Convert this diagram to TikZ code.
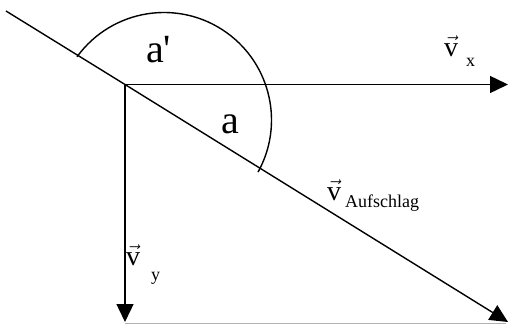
\documentclass[tikz,border=0pt]{standalone}
\usepackage{fontspec}
\setmainfont{Liberation Serif}
\usetikzlibrary{arrows.meta}
\newcommand{\vecv}[3]{$\vec{\textrm{v}}$\hspace{#2}\raisebox{-#3}{\fontsize{18}{18}\selectfont #1}}
\begin{document}
\begin{tikzpicture}[x=1pt,y=-1pt,
  vline/.style={line width=1.4pt},
  vtip/.style={-{Triangle[length=18pt,width=17pt]}},
  anglab/.style={inner sep=0pt,anchor=base west,font=\fontsize{40}{40}\selectfont},
  veclab/.style={inner sep=0pt,anchor=base west,font=\fontsize{28}{28}\selectfont}]
\useasboundingbox (0,0) rectangle (509,324);
\coordinate (O) at (125,84.5);
\coordinate (D0) at (6,11);
\coordinate (D1) at (508,322);
\coordinate (X1) at (508,84.5);
\coordinate (Y1) at (125,322);
\coordinate (G0) at (125,323.3);
\coordinate (G1) at (506,323.3);
\coordinate (C) at (164,120);
% bottom grey line
\draw[gray!60,line width=1pt] (G0) -- (G1);
% diagonal
\draw[vline] (D0) -- (O);
\draw[vline,vtip] (O) -- (D1);
% axes
\draw[vline,vtip] (O) -- (X1);
\draw[vline,vtip] (O) -- (Y1);
% arc
\draw[vline] (C) ++(216:107.5) arc[start angle=216,end angle=389,radius=107.5];
% labels
\node[anglab] (ap) at (146,62) {a\textquotesingle};
\node[anglab] (a) at (221,133) {a};
\node[veclab] (vx) at (444,56) {\vecv{x}{8pt}{10pt}};
\node[veclab] (va) at (327,200) {\vecv{Aufschlag}{4pt}{7pt}};
\node[veclab] (vy) at (126,265) {\vecv{y}{11pt}{15pt}};
\end{tikzpicture}
\end{document}
